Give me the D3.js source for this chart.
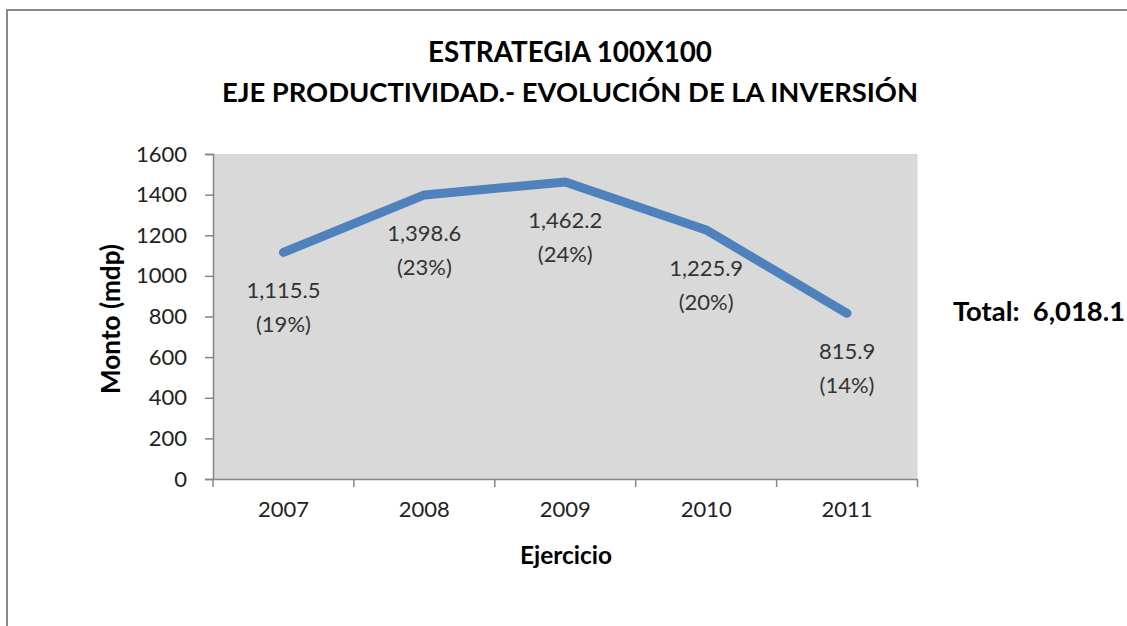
<!DOCTYPE html>
<html><head><meta charset="utf-8">
<script src="https://cdn.jsdelivr.net/npm/d3@7"></script>
<style>
html,body{margin:0;padding:0;background:#fff;overflow:hidden;width:1127px;height:626px;}
svg{display:block;}
</style></head>
<body>
<svg id="chart" width="1127" height="626"></svg>
<script>
const years = ["2007","2008","2009","2010","2011"];
const values = [1115.5, 1398.6, 1462.2, 1225.9, 815.9];
const valueLabels = ["1,115.5","1,398.6","1,462.2","1,225.9","815.9"];
const pctLabels = ["(19%)","(23%)","(24%)","(20%)","(14%)"];
const yTicks = [0,200,400,600,800,1000,1200,1400,1600];
const titleLines = ["ESTRATEGIA 100X100","EJE PRODUCTIVIDAD.- EVOLUCIÓN DE LA INVERSIÓN"];
const totalText = "Total:  6,018.1";

const FONT = "Lato, 'Open Sans', sans-serif";
const svg = d3.select("#chart");
const L = 213, R = 917.5, T = 154, B = 479;

function fit(sel, target){
  sel.each(function(){
    const w = this.getComputedTextLength();
    const fs = parseFloat(this.getAttribute("font-size"));
    if (w > 0) this.setAttribute("font-size", (fs*target/w).toFixed(2));
  });
}

// outer frame (only top and left edges are inside the picture)
svg.append("path").attr("d","M7,700V10H1200")
  .attr("fill","none").attr("stroke","#8a8a8a").attr("stroke-width",2);

const x = d3.scaleBand().domain(years).range([L,R]).paddingInner(0).paddingOuter(0);
const y = d3.scaleLinear().domain([0,1600]).range([B,T]);

svg.append("rect").attr("x",L).attr("y",T).attr("width",R-L).attr("height",B-T).attr("fill","#d9d9d9");

const yAxis = svg.append("g").attr("transform",`translate(${L},0)`)
  .call(d3.axisLeft(y).tickValues(yTicks).tickSize(8).tickPadding(18).tickFormat(d3.format("d")));
yAxis.select(".domain").attr("stroke","#868686").attr("stroke-width",1.5);
yAxis.selectAll(".tick line").attr("stroke","#868686").attr("stroke-width",1.5);
yAxis.selectAll("text").attr("font-family",FONT).attr("font-size",22).attr("fill","#222");

const xAxis = svg.append("g").attr("transform",`translate(0,${B})`)
  .call(d3.axisBottom(x).tickSize(0).tickPadding(22));
xAxis.select(".domain").attr("stroke","#868686").attr("stroke-width",1.5);
xAxis.selectAll("text").attr("font-family",FONT).attr("font-size",22).attr("fill","#222");
const bounds = years.map(d=>x(d)).concat([R]);
svg.append("g").selectAll("line").data(bounds).join("line")
  .attr("x1",d=>d).attr("x2",d=>d).attr("y1",B).attr("y2",B+8)
  .attr("stroke","#868686").attr("stroke-width",1.5);

const cx = d => x(d) + x.bandwidth()/2;
const line = d3.line().x((d,i)=>cx(years[i])).y(d=>y(d));
svg.append("path").datum(values).attr("d",line).attr("fill","none")
  .attr("stroke","#4f81bd").attr("stroke-width",9).attr("stroke-linecap","round").attr("stroke-linejoin","round");

const lbl = svg.append("g").attr("font-family",FONT).attr("font-size",22).attr("fill","#333").attr("text-anchor","middle");
lbl.selectAll("text.v").data(values).join("text").attr("class","v")
  .attr("x",(d,i)=>cx(years[i])).attr("y",d=>y(d)+38).attr("dy","0.35em").text((d,i)=>valueLabels[i]);
lbl.selectAll("text.p").data(values).join("text").attr("class","p")
  .attr("x",(d,i)=>cx(years[i])).attr("y",d=>y(d)+72).attr("dy","0.35em").text((d,i)=>pctLabels[i]);

const titles = svg.append("g").selectAll("text").data(titleLines).join("text")
  .attr("x",570).attr("y",(d,i)=>52+i*40).attr("dy","0.36em").attr("text-anchor","middle")
  .attr("font-family",FONT).attr("font-weight","bold").attr("font-size",26).attr("fill","#000").text(d=>d);
fit(titles.filter((d,i)=>i===0), 284);
fit(titles.filter((d,i)=>i===1), 696);

const xt = svg.append("text").attr("x",566).attr("y",555).attr("dy","0.35em").attr("text-anchor","middle")
  .attr("font-family",FONT).attr("font-weight","bold").attr("font-size",22).attr("fill","#000").text("Ejercicio");
fit(xt, 92);
const yt = svg.append("text").attr("transform",`translate(111,319) rotate(-90)`).attr("dy","0.35em").attr("text-anchor","middle")
  .attr("font-family",FONT).attr("font-weight","bold").attr("font-size",22).attr("fill","#000").text("Monto (mdp)");
fit(yt, 150);

const tt = svg.append("text").attr("x",953).attr("y",311).attr("dy","0.35em")
  .attr("font-family",FONT).attr("font-weight","bold").attr("font-size",23).attr("fill","#000")
  .attr("xml:space","preserve").style("white-space","pre").text(totalText);
fit(tt, 172);
</script>
</body></html>
